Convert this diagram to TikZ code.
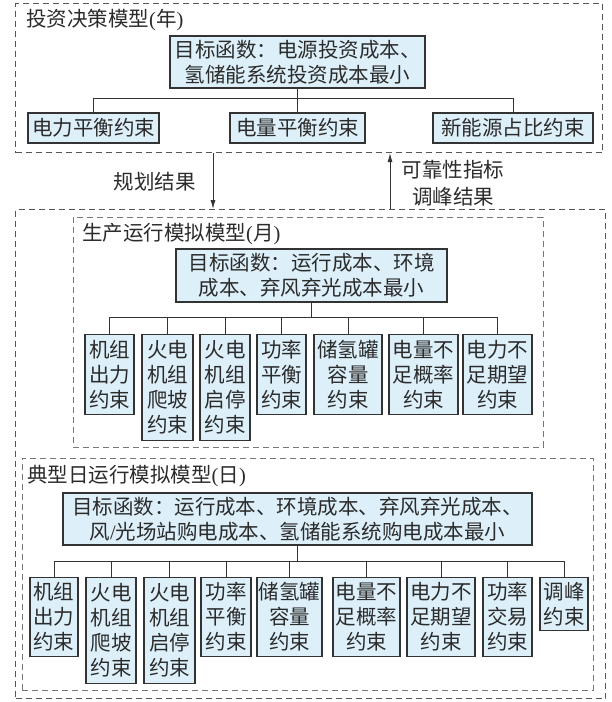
\documentclass[tikz,border=0pt]{standalone}
\usepackage{fontspec}
\setmainfont{Noto Sans CJK SC}
\newfontfamily\lat{Liberation Serif}
\usetikzlibrary{arrows.meta}
\definecolor{boxfill}{HTML}{DDF0FA}
\definecolor{edge}{HTML}{333333}
\definecolor{dashc}{HTML}{555555}
\definecolor{dashl}{HTML}{777777}
\definecolor{txt}{HTML}{2B2B2B}
\begin{document}
\begin{tikzpicture}[x=1pt,y=-1pt,
  cbox/.style={draw=edge, fill=boxfill, line width=1.1pt, inner sep=0pt, align=center, text=txt, font=\fontsize{20.5}{25}\selectfont},
  frame/.style={draw=dashc, line width=1pt, dash pattern=on 6pt off 4pt, inner sep=0pt},
  lframe/.style={draw=dashl, line width=0.9pt, dash pattern=on 6pt off 4pt, inner sep=0pt},
  ttl/.style={inner sep=0pt, text=txt, font=\fontsize{20.5}{25}\selectfont},
  tree/.style={draw=edge, line width=1pt},
  arr/.style={draw=edge, line width=1pt, -{Latex[length=9pt,width=5pt]}}]
\useasboundingbox (0,0) rectangle (612,702);
\fill[white] (0,0) rectangle (612,702);

% frames
\node[frame, minimum width=587pt, minimum height=149pt, anchor=north west] (topbox) at (15,3) {};
\node[frame, minimum width=590pt, minimum height=489pt, anchor=north west] (bigbox) at (15,209) {};
\node[lframe, minimum width=470pt, minimum height=230pt, anchor=north west] (monbox) at (73,217) {};
\node[lframe, minimum width=571pt, minimum height=232pt, anchor=north west] (daybox) at (22,458) {};

% titles
\node[ttl, anchor=west] (ta) at (26,20) {投资决策模型{\lat(}年{\lat)}};
\node[ttl, anchor=west] (tb) at (82,234) {生产运行模拟模型{\lat(}月{\lat)}};
\node[ttl, anchor=west] (tc) at (27,476) {典型日运行模拟模型{\lat(}日{\lat)}};

% top level
\node[cbox, minimum width=255pt, minimum height=52pt] (goalA) at (297.5,62) {目标函数：电源投资成本、\\氢储能系统投资成本最小};
\node[cbox, minimum width=131pt, minimum height=30pt] (a1) at (93.5,128) {电力平衡约束};
\node[cbox, minimum width=135pt, minimum height=30pt] (a2) at (297.5,128) {电量平衡约束};
\node[cbox, minimum width=160pt, minimum height=30pt] (a3) at (513,128) {新能源占比约束};
\draw[tree] (goalA.south) -- (a2.north);
\draw[tree] (a1.north) -- ++(0,-14) -| (a3.north);

% arrows between levels
\coordinate (dx) at (213,0);
\coordinate (ux) at (390,0);
\draw[arr] (topbox.south -| dx) -- (bigbox.north -| dx);
\draw[arr] (bigbox.north -| ux) -- (topbox.south -| ux);
\node[ttl, anchor=east] (l1) at (196,182) {规划结果};
\node[ttl, align=center, font=\fontsize{20.5}{27}\selectfont] (l2) at (453,183.5) {可靠性指标\\调峰结果};

% month level
\node[cbox, minimum width=271pt, minimum height=53pt] (goalB) at (311.5,275.5) {目标函数：运行成本、环境\\成本、弃风弃光成本最小};
\node[cbox, anchor=north, minimum width=49pt, minimum height=80pt] (b1) at (109.5,334) {机组\\出力\\约束};
\node[cbox, anchor=north, minimum width=51pt, minimum height=106pt] (b2) at (167.5,334) {火电\\机组\\爬坡\\约束};
\node[cbox, anchor=north, minimum width=50pt, minimum height=106pt] (b3) at (225,334) {火电\\机组\\启停\\约束};
\node[cbox, anchor=north, minimum width=49pt, minimum height=80pt] (b4) at (281.5,334) {功率\\平衡\\约束};
\node[cbox, anchor=north, minimum width=68pt, minimum height=80pt] (b5) at (348,334) {储氢罐\\容量\\约束};
\node[cbox, anchor=north, minimum width=69pt, minimum height=80pt] (b6) at (423.5,334) {电量不\\足概率\\约束};
\node[cbox, anchor=north, minimum width=69pt, minimum height=80pt] (b7) at (497.5,334) {电力不\\足期望\\约束};
\draw[tree] (goalB.south) -- ++(0,15);
\draw[tree] (b1.north) -- ++(0,-17) -| (b7.north);
\foreach \n in {b2,b3,b4,b5,b6} \draw[tree] (\n.north) -- ++(0,-17);

% day level
\node[cbox, minimum width=469pt, minimum height=52pt] (goalC) at (297.5,519) {目标函数：运行成本、环境成本、弃风弃光成本、\\风{\lat/}光场站购电成本、氢储能系统购电成本最小};
\node[cbox, anchor=north, minimum width=48pt, minimum height=79pt] (c1) at (54,577) {机组\\出力\\约束};
\node[cbox, anchor=north, minimum width=50pt, minimum height=106pt] (c2) at (111,577) {火电\\机组\\爬坡\\约束};
\node[cbox, anchor=north, minimum width=51pt, minimum height=106pt] (c3) at (169.5,577) {火电\\机组\\启停\\约束};
\node[cbox, anchor=north, minimum width=50pt, minimum height=79pt] (c4) at (226,577) {功率\\平衡\\约束};
\node[cbox, anchor=north, minimum width=65pt, minimum height=79pt] (c5) at (289.5,577) {储氢罐\\容量\\约束};
\node[cbox, anchor=north, minimum width=67pt, minimum height=79pt] (c6) at (366.5,577) {电量不\\足概率\\约束};
\node[cbox, anchor=north, minimum width=68pt, minimum height=79pt] (c7) at (441,577) {电力不\\足期望\\约束};
\node[cbox, anchor=north, minimum width=49pt, minimum height=79pt] (c8) at (507.5,577) {功率\\交易\\约束};
\node[cbox, anchor=north, minimum width=48pt, minimum height=53pt] (c9) at (564,577) {调峰\\约束};
\draw[tree] (goalC.south) -- ++(0,16);
\draw[tree] (c1.north) -- ++(0,-16) -| (c9.north);
\foreach \n in {c2,c3,c4,c5,c6,c7,c8} \draw[tree] (\n.north) -- ++(0,-16);
\end{tikzpicture}
\end{document}
